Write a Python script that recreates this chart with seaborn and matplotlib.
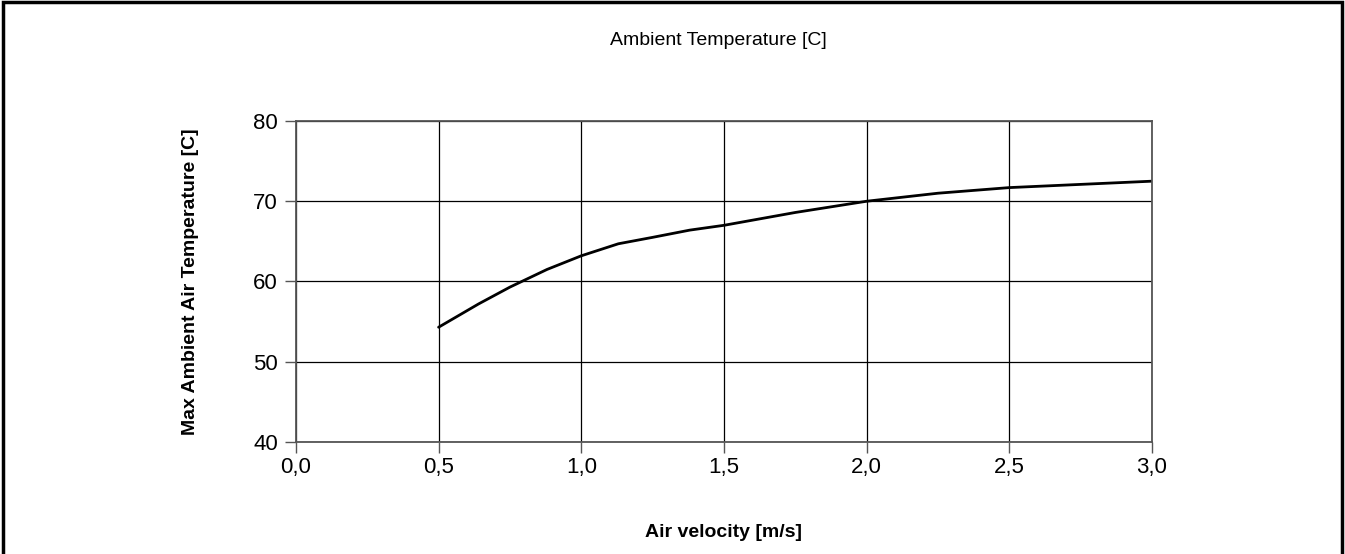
import matplotlib
matplotlib.use("Agg")
import matplotlib.pyplot as plt
import seaborn as sns
import pandas as pd
from matplotlib.patches import Rectangle
from matplotlib.ticker import FuncFormatter

# Data
air_velocity = [0.5, 0.64, 0.75, 0.88, 1.0, 1.13, 1.25, 1.38, 1.5, 1.75, 2.0, 2.25, 2.5, 2.75, 3.0]
max_temp = [54.3, 57.2, 59.3, 61.5, 63.2, 64.7, 65.5, 66.4, 67.0, 68.6, 70.0, 71.0, 71.7, 72.1, 72.5]

x_ticks = [0.0, 0.5, 1.0, 1.5, 2.0, 2.5, 3.0]
y_ticks = [40, 50, 60, 70, 80]

sns.set_style("white")
plt.rcParams['font.family'] = ['Liberation Sans', 'DejaVu Sans']
plt.rcParams['text.color'] = 'black'
plt.rcParams['axes.labelcolor'] = 'black'
plt.rcParams['xtick.color'] = 'black'
plt.rcParams['ytick.color'] = 'black'

df = pd.DataFrame({"v": air_velocity, "t": max_temp})

fig = plt.figure(figsize=(13.45, 5.54), dpi=100)
ax = fig.add_axes([0.220, 0.2022, 0.6365, 0.5794])

sns.lineplot(data=df, x="v", y="t", ax=ax, color="black", linewidth=2.0)

ax.set_xlim(0, 3)
ax.set_ylim(40, 80)
ax.set_xticks(x_ticks)
ax.set_yticks(y_ticks)
ax.xaxis.set_major_formatter(FuncFormatter(lambda v, p: f"{v:.1f}".replace(".", ",")))

ax.grid(True, color="black", linewidth=0.9)
ax.set_axisbelow(True)
for spine in ax.spines.values():
    spine.set_color("#555555")
    spine.set_linewidth(1.3)

ax.tick_params(axis="both", direction="out", length=8, width=1.0, color="#555555",
               labelsize=16, bottom=True, left=True)
ax.tick_params(axis="x", pad=3)
ax.tick_params(axis="y", pad=5)

ax.set_xlabel("Air velocity [m/s]", fontsize=14, fontweight="bold", labelpad=33)
ax.set_ylabel("Max Ambient Air Temperature [C]", fontsize=14, fontweight="bold", labelpad=39)
fig.text(0.534, 0.927, "Ambient Temperature [C]", ha="center", va="center", fontsize=14)

# border around the whole figure (open at the bottom like the reference crop)
fig.patches.append(Rectangle((0.002, -0.02), 0.996, 1.016, transform=fig.transFigure,
                             fill=False, edgecolor="black", linewidth=2.5))

fig.savefig("out.png", dpi=100)
